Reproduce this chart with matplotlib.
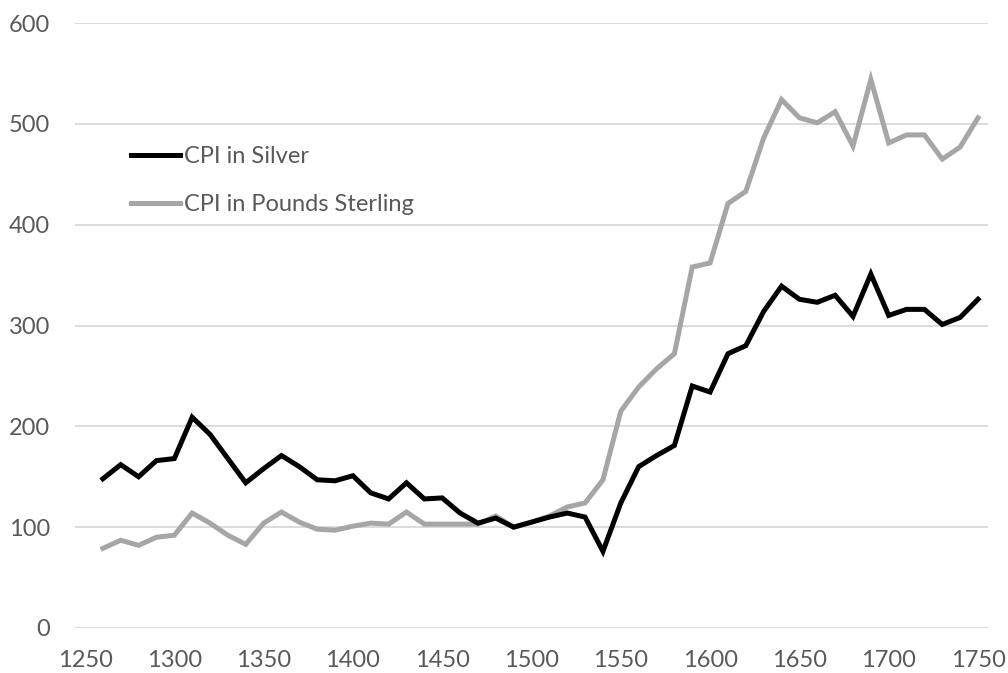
import matplotlib
matplotlib.use('Agg')
import matplotlib.pyplot as plt

# decades 1260..1750
years = list(range(1260, 1760, 10))

cpi_silver = [148, 162, 150, 166, 168, 209, 192, 168, 144, 158,
              171, 160, 147, 146, 151, 134, 128, 144, 128, 129,
              114, 104, 109, 100, 105, 110, 114, 110, 76, 124,
              160, 171, 181, 240, 234, 272, 280, 314, 339, 326,
              323, 330, 309, 351, 310, 316, 316, 301, 308, 326]

cpi_sterling = [79, 87, 82, 90, 92, 114, 104, 92, 83, 104,
                115, 105, 98, 97, 101, 104, 103, 115, 103, 103,
                103, 103, 111, 100, 105, 111, 120, 124, 147, 215,
                239, 257, 272, 358, 362, 421, 433, 486, 524, 506,
                501, 512, 478, 544, 481, 489, 489, 465, 477, 506]

series_names = ['CPI in Silver', 'CPI in Pounds Sterling']
y_ticks = [0, 100, 200, 300, 400, 500, 600]
x_ticks = [1250, 1300, 1350, 1400, 1450, 1500, 1550, 1600, 1650, 1700, 1750]

plt.rcParams['font.family'] = ['Lato', 'DejaVu Sans']
text_color = '#595959'
fs = 17

fig = plt.figure(figsize=(10.08, 6.73), dpi=100)
ax = fig.add_axes([75 / 1008, 45 / 673, 913 / 1008, 605 / 673])

ax.plot(years, cpi_silver, color='black', linewidth=3.6, label=series_names[0],
        solid_joinstyle='miter', zorder=3)
ax.plot(years, cpi_sterling, color='#a6a6a6', linewidth=3.6, label=series_names[1],
        solid_joinstyle='miter', zorder=2)

ax.set_xlim(1244.4, 1755.6)
ax.set_ylim(0, 600)
ax.set_yticks(y_ticks)
ax.set_xticks(x_ticks)
ax.tick_params(axis='both', length=0, labelsize=fs, labelcolor=text_color)
ax.tick_params(axis='y', pad=18)
ax.tick_params(axis='x', pad=16)
ax.grid(axis='y', color='#d9d9d9', linewidth=1.3)
ax.set_axisbelow(True)
for s in ax.spines.values():
    s.set_visible(False)

leg = ax.legend(loc='upper left', bbox_to_anchor=((131 - 75) / 913, (628 - 146) / 605),
                frameon=False, borderpad=0, borderaxespad=0, fontsize=fs,
                handlelength=2.08, handletextpad=0.17, labelspacing=1.16)
for t in leg.get_texts():
    t.set_color(text_color)

fig.savefig('out.png', dpi=100)
